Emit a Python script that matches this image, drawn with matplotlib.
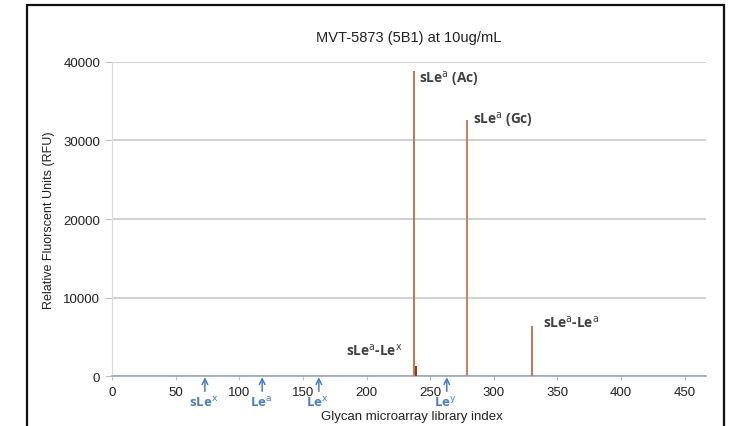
import matplotlib
matplotlib.use("Agg")
import matplotlib.pyplot as plt
from matplotlib.patches import Rectangle

# Data
bar_index = [237.5, 238.7, 278.6, 329.7]
bar_rfu = [38800, 1300, 32600, 6400]
bar_colors = ["#c07a55", "#8a3c17", "#c9845f", "#c07a55"]

peak_labels = [r"sLe$^{\mathrm{a}}$ (Ac)", r"sLe$^{\mathrm{a}}$ (Gc)",
               r"sLe$^{\mathrm{a}}$-Le$^{\mathrm{x}}$", r"sLe$^{\mathrm{a}}$-Le$^{\mathrm{a}}$"]
peak_label_x = [241, 284, 184, 339]
peak_label_y = [37900, 32700, 3400, 6900]

ref_labels = [r"sLe$^{\mathrm{x}}$", r"Le$^{\mathrm{a}}$", r"Le$^{\mathrm{x}}$", r"Le$^{\mathrm{y}}$"]
ref_index = [73, 118, 162.5, 263]

xticks = [0, 50, 100, 150, 200, 250, 300, 350, 400, 450]
yticks = [0, 10000, 20000, 30000, 40000]

plt.rcParams['font.family'] = ['Liberation Sans', 'DejaVu Sans']
plt.rcParams['mathtext.fontset'] = 'custom'

fig = plt.figure(figsize=(7.33, 4.27), dpi=100)
ax = fig.add_axes([0.1528, 0.117, 0.963 - 0.1528, 0.8525 - 0.117])

ax.bar(bar_index, bar_rfu, width=1.7, color=bar_colors, zorder=3)

ax.set_xlim(0, 466.6)
ax.set_ylim(0, 40000)
ax.set_xticks(xticks)
ax.set_yticks(yticks)
ax.tick_params(axis='both', labelsize=9.5, colors='#bfbfbf', labelcolor='#222222', length=5)
ax.tick_params(axis='x', pad=4, length=3)
ax.yaxis.grid(True, color='#c8c8c8', linewidth=1.2, zorder=0)
ax.set_axisbelow(True)
for s in ['top', 'right']:
    ax.spines[s].set_visible(False)
ax.spines['left'].set_color('#d9d9d9')
ax.spines['bottom'].set_color('#98a8bf')
ax.spines['bottom'].set_linewidth(1.2)

ax.set_title("MVT-5873 (5B1) at 10ug/mL", fontsize=10.5, color='#222222', pad=15)
ax.set_ylabel("Relative Fluorscent Units (RFU)", fontsize=9, color='#222222', labelpad=6)
ax.set_xlabel("Glycan microarray library index", fontsize=9.5, color='#222222')
ax.xaxis.set_label_coords(0.505, -0.108)

bold = dict(fontsize=9.8, fontweight='bold', color='#404040', family=['Open Sans', 'DejaVu Sans'],
            va='center', ha='left')
for lab, lx, ly in zip(peak_labels, peak_label_x, peak_label_y):
    ax.text(lx, ly, lab, **bold)

blue = '#4a7dc0'
for lab, rx in zip(ref_labels, ref_index):
    ax.annotate("", xy=(rx, -150), xycoords='data',
                xytext=(rx, -1950), textcoords='data',
                arrowprops=dict(arrowstyle='->', color=blue, lw=1.1, shrinkA=0, shrinkB=0),
                annotation_clip=False)
    ax.text(rx - 1, -3300, lab, color=blue, fontsize=9.5, fontweight='bold',
            family=['Open Sans', 'DejaVu Sans'], ha='center', va='center')

# outer frame
fig.patches.append(Rectangle((27 / 733, -0.05), (724 - 27) / 733, 1.05 - 6 / 427,
                             transform=fig.transFigure, fill=False,
                             edgecolor='#111111', linewidth=1.6, clip_on=False))

fig.savefig("out.png", dpi=100)
